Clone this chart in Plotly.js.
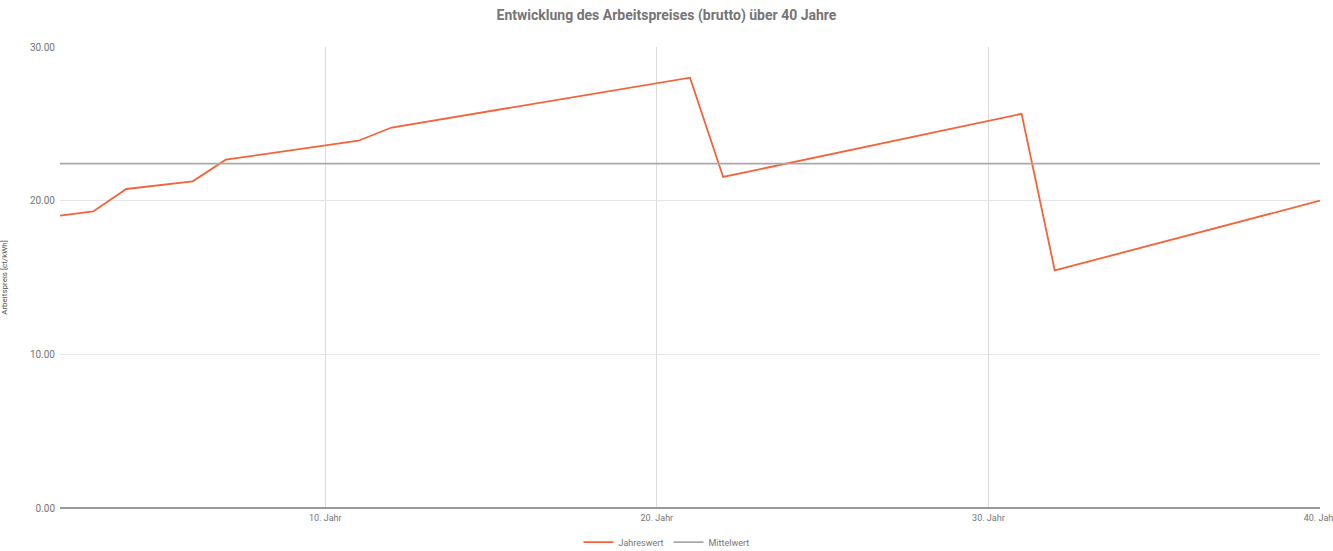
<!DOCTYPE html>
<html>
<head>
<meta charset="utf-8">
<script src="https://cdn.plot.ly/plotly-3.0.1.min.js"></script>
<style>html,body{margin:0;padding:0;background:#fff;overflow:hidden;}#chart{width:1333px;height:551px;}</style>
</head>
<body>
<div id="chart"></div>
<script>
const years = [2,3,4,5,6,7,8,9,10,11,12,13,14,15,16,17,18,19,20,21,22,23,24,25,26,27,28,29,30,31,32,33,34,35,36,37,38,39,40];
const jahreswert = [19.02,19.30,20.76,21.01,21.26,22.67,22.98,23.29,23.59,23.90,24.76,25.12,25.48,25.84,26.20,26.56,26.92,27.28,27.64,28.00,21.54,22.00,22.45,22.91,23.37,23.82,24.28,24.74,25.19,25.65,15.46,16.03,16.60,17.16,17.73,18.30,18.87,19.43,20.00];
const mittelwert = [22.41,22.41,22.41,22.41,22.41,22.41,22.41,22.41,22.41,22.41,22.41,22.41,22.41,22.41,22.41,22.41,22.41,22.41,22.41,22.41,22.41,22.41,22.41,22.41,22.41,22.41,22.41,22.41,22.41,22.41,22.41,22.41,22.41,22.41,22.41,22.41,22.41,22.41,22.41];
const xTickVals = [10,20,30,40];
const xTickText = ["10. Jahr","20. Jahr","30. Jahr","40. Jahr"];
const yTickVals = [0,10,20,30];
const titleText = "Entwicklung des Arbeitspreises (brutto) über 40 Jahre";
const yTitle = "Arbeitspreis [ct/kWh]";

const traces = [
  {x: years, y: jahreswert, name: "Jahreswert", type: "scatter", mode: "lines",
   line: {color: "#f4633a", width: 1.8}},
  {x: years, y: mittelwert, name: "Mittelwert", type: "scatter", mode: "lines",
   line: {color: "#a9a9a9", width: 1.8}}
];

const layout = {
  width: 1333, height: 551,
  paper_bgcolor: "#fff", plot_bgcolor: "#fff",
  font: {family: "Roboto, 'Noto Sans', sans-serif", color: "#757575", size: 9},
  title: {text: "<b>" + titleText + "</b>", x: 0.5, xanchor: "center", y: 0.972, yanchor: "middle",
          font: {family: "Roboto, sans-serif", size: 14, color: "#757575"}},
  margin: {l: 60, r: 13, t: 47, b: 43},
  showlegend: true,
  legend: {orientation: "h", x: 0.5, xanchor: "center", xref: "container", yref: "container", y: 0.016, yanchor: "middle",
           font: {size: 9, color: "#757575"}, itemwidth: 30, bgcolor: "rgba(0,0,0,0)"},
  xaxis: {range: [2, 40], tickmode: "array", tickvals: xTickVals, ticktext: xTickText,
          showgrid: true, gridcolor: "#dcdcdc", gridwidth: 1, zeroline: false,
          showline: false, ticks: "", ticklabeloverflow: "allow", ticklabelstandoff: 3,
          tickfont: {size: 9, color: "#757575"}, automargin: false},
  yaxis: {range: [0, 30], tickmode: "array", tickvals: yTickVals, tickformat: ".2f",
          showgrid: true, gridcolor: "#e6e6e6", gridwidth: 1, zeroline: true, zerolinecolor: "#9a9a9a", zerolinewidth: 1.5,
          showline: false, ticks: "", ticklabelstandoff: 4, tickfont: {size: 10, color: "#757575"},
          title: {text: yTitle, font: {size: 8, color: "#555"}, standoff: 22}, automargin: false}
};

Plotly.newPlot("chart", traces, layout, {displayModeBar: false, responsive: false});
</script>
</body>
</html>
